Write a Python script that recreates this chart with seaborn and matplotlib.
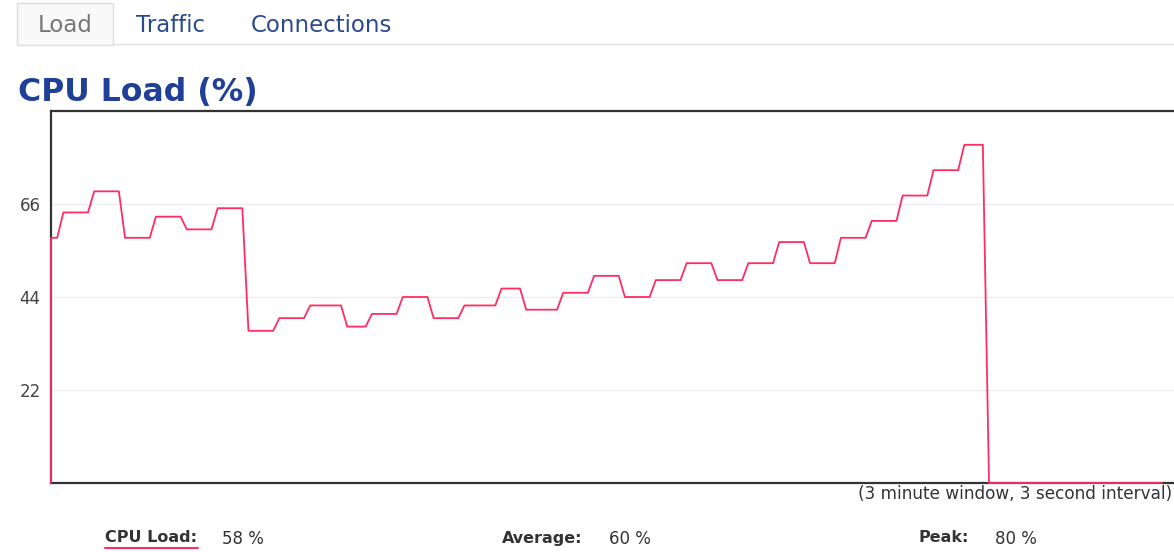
import matplotlib
matplotlib.use('Agg')
import matplotlib.pyplot as plt
from matplotlib.patches import Rectangle
from matplotlib.lines import Line2D
import numpy as np
import pandas as pd
import seaborn as sns

# cpu load samples, stored as plateau levels and how many 1s samples each one holds
levels = [58, 64, 69, 58, 63, 60, 65, 36, 39, 42, 37, 40, 44, 39, 42, 46,
          41, 45, 49, 44, 48, 52, 48, 52, 57, 52, 58, 62, 68, 74, 80, 0]
holds = [2, 5, 5, 5, 5, 5, 5, 5, 5, 6, 4, 5, 5, 5, 6, 4,
         6, 5, 5, 5, 5, 5, 5, 5, 5, 5, 5, 5, 5, 5, 4, 29]
yticks = [22, 44, 66]
tabs = ['Load', 'Traffic', 'Connections']
stats = [('CPU Load:', '58 %'), ('Average:', '60 %'), ('Peak:', '80 %')]

load = np.repeat(levels, holds)
secs = np.arange(len(load))
# trace starts from the baseline
df = pd.DataFrame({'t': np.r_[0, secs], 'load': np.r_[0, load]})

W, H = 1174, 552
sns.set_style("white")
plt.rcParams['font.family'] = ['DejaVu Sans']
fig = plt.figure(figsize=(W/100, H/100), dpi=100)

def fx(x): return x/W
def fy(y): return 1-y/H

ax = fig.add_axes([fx(51), fy(483), fx(1176)-fx(51), fy(111)-fy(483)])
sns.lineplot(data=df, x='t', y='load', estimator=None, sort=False,
             color='#ff2d62', linewidth=1.3, ax=ax)
for ln in ax.get_lines():
    ln.set_zorder(4)
    ln.set_clip_on(False)
ax.set_xlim(0, 182.3)
ax.set_ylim(0, 88)
ax.set_xticks([])
ax.set_yticks(yticks)
ax.set_yticklabels([str(v) for v in yticks], color='#444444', fontsize=12)
ax.tick_params(axis='y', length=0, pad=7.5)
ax.set_xlabel('')
ax.set_ylabel('')
ax.grid(axis='y', color='#ececec', linewidth=1)
for s in ['top', 'left', 'bottom']:
    ax.spines[s].set_color('#333333')
    ax.spines[s].set_linewidth(1.6)
ax.spines['right'].set_visible(False)

# tab strip
fig.add_artist(Rectangle((fx(17), fy(45)), fx(113)-fx(17), fy(3)-fy(45),
                         facecolor='#f9f9f9', edgecolor='#dddddd', linewidth=1))
fig.add_artist(Line2D([fx(113), 1], [fy(44), fy(44)], color='#e2e2e2', linewidth=1))
tab_x = [38, 136, 251]
tab_c = ['#777777', '#2b4a8c', '#2b4a8c']
for t, x, c in zip(tabs, tab_x, tab_c):
    fig.text(fx(x), fy(25), t, fontsize=16.5, color=c, va='center', ha='left')

fig.text(fx(18), fy(92), 'CPU Load (%)', fontsize=22.7, fontweight='bold',
         color='#1f3f98', va='center', ha='left')

fig.text(fx(1172), fy(494), '(3 minute window, 3 second interval)', fontsize=12.2,
         color='#333333', va='center', ha='right')

lab_x = [105, 502, 919]
val_x = [222, 609, 995]
for (lab, val), lx, vx in zip(stats, lab_x, val_x):
    fig.text(fx(lx), fy(538), lab, fontsize=11.5, fontweight='bold',
             color='#333333', va='center', ha='left')
    fig.text(fx(vx), fy(539), val, fontsize=12, color='#333333',
             va='center', ha='left')
fig.add_artist(Line2D([fx(105), fx(198)], [fy(548), fy(548)], color='#ff2d62', linewidth=1.5))

fig.savefig('out.png', dpi=100)
